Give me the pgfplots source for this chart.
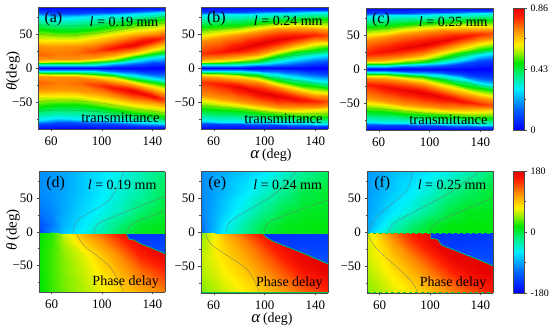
\documentclass[border=0pt]{standalone}
\usepackage{fontspec}
\setmainfont{Liberation Serif}
\usepackage{pgfplots}
\usepackage{pgfplotstable}
\pgfplotsset{compat=1.18}
\pgfplotsset{
 colormap={cmb}{rgb255(0)=(0,0,255) rgb255(17)=(0,100,255) rgb255(34)=(0,240,255) rgb255(45)=(0,240,130) rgb255(55)=(0,230,0) rgb255(63)=(150,240,0) rgb255(70)=(255,240,0) rgb255(82)=(255,140,0) rgb255(93)=(255,30,0) rgb255(100)=(230,0,0)},
 pan/.style={scale only axis,view={0}{90},width=127pt,height=122pt,xmin=50,xmax=150,ymin=-90,ymax=90,zmin=-200,zmax=200,
  anchor=south west,colormap name=cmb,axis on top,
  xtick={60,100,140},xticklabels={60,100,140},minor xtick={80,120},
  ytick={-50,0,50},yticklabels={−50,0,50},minor ytick={-75,-25,25,75},ztick=\empty,
  xtick pos=left,ytick pos=left,tick align=outside,major tick length=2.5pt,minor tick length=1.5pt,
  tick label style={font=\fontsize{13}{13}\selectfont},
  xticklabel style={yshift=-2pt},
  axis line style={line width=0.4pt,black!70},tick style={black!70,line width=0.4pt}},
 tr/.style={pan,point meta min=0,point meta max=0.86},
 ph/.style={pan,point meta min=-180,point meta max=180},
 ub/.style={surf,shader=interp,mesh/ordering=y varies,mesh/rows=13,mesh/cols=8,forget plot},
 pm/.style={surf,shader=interp,mesh/ordering=x varies,mesh/cols=8,forget plot},
 cl/.style={black!55,line width=0.25pt,smooth,forget plot},
 ct/.style={black,opacity=0.3,line width=0.25pt,smooth,forget plot},
 bd/.style={color={rgb,255:red,0;green,200;blue,70},line width=0.7pt,forget plot},
 cbar/.style={scale only axis,view={0}{90},anchor=south west,width=11.5pt,height=122pt,xmin=0,xmax=1,xtick=\empty,ztick=\empty,colormap name=cmb,axis on top,
  ytick pos=right,tick align=outside,major tick length=2.5pt,minor tick length=1.5pt,
  yticklabel style={font=\fontsize{10}{11}\selectfont},
  axis line style={line width=0.4pt,black!70},tick style={black!70,line width=0.4pt}}
}
\newcommand{\lab}[2]{\fontsize{16}{16}\selectfont #1}
\newcommand{\llen}[1]{\fontsize{14}{14}\selectfont \textit{l} = #1 mm}
\newcommand{\tm}{\fontsize{14.5}{15}\selectfont transmittance}
\newcommand{\pd}{\fontsize{14}{15}\selectfont Phase delay}

\pgfplotstableread[row sep=crcr]{a t v\\
50 90 0\\50 82 .1\\50 76 .29\\50 57 .47\\50 42 .6\\50 32 .7\\50 21 .74\\50 13 .7\\50 9.5 .6\\50 7 .47\\50 4.5 .29\\50 2 .1\\50 0 0\\
65 90 0\\65 81 .1\\65 74 .29\\65 55 .47\\65 41 .6\\65 31 .7\\65 21 .72\\65 13 .7\\65 10 .6\\65 7.5 .47\\65 4.5 .29\\65 2 .1\\65 0 0\\
80 90 0\\80 81 .1\\80 75 .29\\80 55 .47\\80 42 .6\\80 33 .7\\80 22 .73\\80 14 .7\\80 10.5 .6\\80 7.5 .47\\80 5 .29\\80 2 .1\\80 0 0\\
95 90 0\\95 82 .1\\95 76 .29\\95 57 .47\\95 46 .6\\95 36 .7\\95 25 .77\\95 16 .7\\95 12 .6\\95 8.5 .47\\95 5 .29\\95 2 .1\\95 0 0\\
110 90 0\\110 83 .1\\110 78 .29\\110 62 .47\\110 50 .6\\110 41 .7\\110 29 .82\\110 20 .7\\110 15 .6\\110 11 .47\\110 7 .29\\110 3 .1\\110 0 0\\
125 90 0\\125 84 .1\\125 80 .29\\125 66 .47\\125 54 .6\\125 47 .7\\125 34 .85\\125 25 .7\\125 21 .6\\125 16 .47\\125 11 .29\\125 5 .1\\125 0 0\\
140 90 0\\140 85 .1\\140 81 .29\\140 70 .47\\140 58 .6\\140 50 .7\\140 41 .84\\140 32 .7\\140 27 .6\\140 21 .47\\140 15 .29\\140 7 .1\\140 0 0\\
150 90 0\\150 85 .1\\150 82 .29\\150 72 .47\\150 60 .6\\150 53 .7\\150 46 .78\\150 38 .7\\150 31 .6\\150 24 .47\\150 17 .29\\150 8 .1\\150 0 0\\
}\taba
\pgfplotstableread[row sep=crcr]{a t v\\
50 90 0\\50 83 .1\\50 78 .29\\50 60 .47\\50 47 .6\\50 40 .7\\50 20 .78\\50 14 .7\\50 9.5 .6\\50 7 .47\\50 4.5 .29\\50 1.5 .1\\50 0 0\\
65 90 0\\65 83 .1\\65 79 .29\\65 62 .47\\65 51 .6\\65 44 .7\\65 24 .81\\65 15 .7\\65 10.5 .6\\65 7.5 .47\\65 4.5 .29\\65 1.5 .1\\65 0 0\\
80 90 0\\80 83 .1\\80 79 .29\\80 64 .47\\80 55 .6\\80 49 .7\\80 28 .85\\80 17 .7\\80 12 .6\\80 8.5 .47\\80 5 .29\\80 2 .1\\80 0 0\\
95 90 0\\95 84 .1\\95 80 .29\\95 67 .47\\95 59 .6\\95 53 .7\\95 35 .86\\95 21 .7\\95 16 .6\\95 11 .47\\95 6 .29\\95 2.5 .1\\95 0 0\\
110 90 0\\110 84 .1\\110 81 .29\\110 69 .47\\110 62 .6\\110 57 .7\\110 42 .86\\110 28 .7\\110 23 .6\\110 17 .47\\110 9 .29\\110 3.5 .1\\110 0 0\\
125 90 0\\125 85 .1\\125 81 .29\\125 71 .47\\125 63 .6\\125 58 .7\\125 46 .84\\125 36 .7\\125 30 .6\\125 23 .47\\125 13 .29\\125 5 .1\\125 0 0\\
140 90 0\\140 85 .1\\140 82 .29\\140 72 .47\\140 62 .6\\140 57 .7\\140 48 .8\\140 41 .7\\140 35 .6\\140 27 .47\\140 17 .29\\140 8 .1\\140 0 0\\
150 90 0\\150 85 .1\\150 82 .29\\150 72 .47\\150 61 .6\\150 56 .7\\150 49 .76\\150 42 .7\\150 37 .6\\150 29 .47\\150 19 .29\\150 9 .1\\150 0 0\\
}\tabb
\pgfplotstableread[row sep=crcr]{a t v\\
50 90 0\\50 83 .1\\50 78 .29\\50 62 .47\\50 50 .6\\50 43 .7\\50 22 .8\\50 14 .7\\50 10 .6\\50 7 .47\\50 4.5 .29\\50 1.5 .1\\50 0 0\\
65 90 0\\65 83 .1\\65 79 .29\\65 64 .47\\65 53 .6\\65 47 .7\\65 26 .83\\65 15 .7\\65 11 .6\\65 7.5 .47\\65 5 .29\\65 2 .1\\65 0 0\\
80 90 0\\80 83 .1\\80 79 .29\\80 66 .47\\80 57 .6\\80 51 .7\\80 31 .85\\80 18 .7\\80 13 .6\\80 9 .47\\80 5.5 .29\\80 2.5 .1\\80 0 0\\
95 90 0\\95 84 .1\\95 80 .29\\95 68 .47\\95 60 .6\\95 54 .7\\95 36 .86\\95 22 .7\\95 16 .6\\95 11 .47\\95 7 .29\\95 3 .1\\95 0 0\\
110 90 0\\110 84 .1\\110 81 .29\\110 70 .47\\110 62 .6\\110 57 .7\\110 42 .85\\110 29 .7\\110 23 .6\\110 16 .47\\110 9 .29\\110 4.5 .1\\110 0 0\\
125 90 0\\125 85 .1\\125 81 .29\\125 71 .47\\125 63 .6\\125 58 .7\\125 47 .83\\125 37 .7\\125 30 .6\\125 23 .47\\125 14 .29\\125 8 .1\\125 0 0\\
140 90 0\\140 85 .1\\140 82 .29\\140 72 .47\\140 63 .6\\140 58 .7\\140 51 .79\\140 43 .7\\140 37 .6\\140 28 .47\\140 20 .29\\140 12 .1\\140 0 0\\
150 90 0\\150 85 .1\\150 82 .29\\150 72 .47\\150 62 .6\\150 58 .7\\150 53 .76\\150 46 .7\\150 40 .6\\150 31 .47\\150 23 .29\\150 14 .1\\150 0 0\\
}\tabc

% phase: upper part, lower part, wedge
\pgfplotstableread[row sep=crcr]{a t p\\
50 90 -100\\60 90 -95\\70 90 -90\\85 90 -75\\100 90 -62\\115 90 -50\\130 90 -35\\150 90 -15\\
50 60 -102\\60 60 -97\\70 60 -90\\85 60 -75\\100 60 -60\\115 60 -45\\130 60 -30\\150 60 -5\\
50 30 -112\\60 30 -103\\70 30 -88\\85 30 -68\\100 30 -52\\115 30 -35\\130 30 -12\\150 30 5\\
50 10 -130\\60 10 -110\\70 10 -82\\85 10 -60\\100 10 -38\\115 10 -14\\130 10 5\\150 10 12\\
50 -1.5 -145\\60 -1 -100\\70 -3 -75\\85 -3 -52\\100 -3 -30\\115 -3 -5\\130 -3 10\\150 -3 15\\
}\tabdu
\pgfplotstableread[row sep=crcr]{a t p\\
50 -1.5 18\\60 -1 25\\70 -3 60\\85 -3 100\\100 -3 130\\115 -3 162\\130 -3 175\\150 -3 180\\
50 -15 18\\60 -15 28\\70 -15 52\\85 -15 85\\100 -15 112\\115 -15 145\\130 -15 172\\150 -15 180\\
50 -35 18\\60 -35 30\\70 -35 45\\85 -35 65\\100 -35 90\\115 -35 120\\130 -35 155\\150 -35 178\\
50 -60 18\\60 -60 30\\70 -60 42\\85 -60 58\\100 -60 78\\115 -60 100\\130 -60 125\\150 -60 150\\
50 -90 15\\60 -90 28\\70 -90 40\\85 -90 52\\100 -90 68\\115 -90 85\\130 -90 102\\150 -90 120\\
}\tabdl
\pgfplotstableread[row sep=crcr]{a t p\\
119.5 -3 -150\\121.6 -3 -150\\126 -3 -150\\130 -3 -150\\140 -3 -148\\150 -3 -145\\
119.5 -4 -150\\121.6 -11.5 -145\\126 -12.5 -145\\130 -17.5 -140\\140 -25 -135\\150 -32.5 -130\\
}\tabdw
\pgfplotstableread[row sep=crcr]{a t p\\
50 90 -100\\60 90 -92\\70 90 -85\\85 90 -75\\100 90 -62\\115 90 -45\\130 90 -25\\150 90 -8\\
50 60 -102\\60 60 -92\\70 60 -80\\85 60 -62\\100 60 -42\\115 60 -22\\130 60 -3\\150 60 5\\
50 30 -105\\60 30 -88\\70 30 -70\\85 30 -45\\100 30 -20\\115 30 0\\130 30 8\\150 30 10\\
50 10 -112\\60 10 -85\\70 10 -58\\85 10 -28\\100 10 -3\\115 10 10\\130 10 13\\150 10 14\\
50 -1 -120\\60 -1 -80\\70 -2.5 -50\\85 -2.5 -22\\100 -2.5 3\\115 -2.5 12\\130 -2.5 14\\150 -2.5 15\\
}\tabeu
\pgfplotstableread[row sep=crcr]{a t p\\
50 -1 40\\60 -1 70\\70 -2.5 100\\85 -2.5 135\\100 -2.5 165\\115 -2.5 178\\130 -2.5 180\\150 -2.5 180\\
50 -15 50\\60 -15 72\\70 -15 92\\85 -15 118\\100 -15 150\\115 -15 175\\130 -15 180\\150 -15 180\\
50 -35 58\\60 -35 68\\70 -35 82\\85 -35 104\\100 -35 130\\115 -35 160\\130 -35 178\\150 -35 180\\
50 -60 52\\60 -60 62\\70 -60 72\\85 -60 88\\100 -60 110\\115 -60 135\\130 -60 160\\150 -60 178\\
50 -90 40\\60 -90 50\\70 -90 60\\85 -90 72\\100 -90 88\\115 -90 108\\130 -90 128\\150 -90 150\\
}\tabel
\pgfplotstableread[row sep=crcr]{a t p\\
99 -2.5 -150\\101 -2.5 -150\\107 -2.5 -150\\110 -2.5 -150\\130 -2.5 -148\\150 -2.5 -145\\
99 -3 -150\\101 -7.5 -150\\107 -14 -145\\110 -16 -145\\130 -31 -135\\150 -47 -130\\
}\tabew
\pgfplotstableread[row sep=crcr]{a t p\\
50 90 -95\\60 90 -88\\70 90 -80\\85 90 -72\\100 90 -62\\115 90 -50\\130 90 -35\\150 90 -10\\
50 60 -95\\60 60 -85\\70 60 -75\\85 60 -60\\100 60 -42\\115 60 -22\\130 60 -8\\150 60 5\\
50 30 -92\\60 30 -78\\70 30 -62\\85 30 -42\\100 30 -20\\115 30 0\\130 30 10\\150 30 12\\
50 10 -90\\60 10 -65\\70 10 -42\\85 10 -15\\100 10 5\\115 10 13\\130 10 15\\150 10 15\\
50 -1 -85\\60 -2 -50\\70 -2 -28\\85 -2 -5\\100 -2 10\\115 -2 15\\130 -2 15\\150 -2 15\\
}\tabfu
\pgfplotstableread[row sep=crcr]{a t p\\
50 -1 60\\60 -2 90\\70 -2 120\\85 -2 155\\100 -2 178\\115 -2 180\\130 -2 180\\150 -2 180\\
50 -15 62\\60 -15 82\\70 -15 108\\85 -15 145\\100 -15 172\\115 -15 180\\130 -15 180\\150 -15 180\\
50 -35 62\\60 -35 72\\70 -35 90\\85 -35 118\\100 -35 148\\115 -35 175\\130 -35 180\\150 -35 180\\
50 -60 52\\60 -60 64\\70 -60 76\\85 -60 96\\100 -60 120\\115 -60 148\\130 -60 170\\150 -60 180\\
50 -90 42\\60 -90 52\\70 -90 62\\85 -90 75\\100 -90 92\\115 -90 112\\130 -90 132\\150 -90 155\\
}\tabfl
\pgfplotstableread[row sep=crcr]{a t p\\
100.5 -2 -150\\106 -2 -150\\109 -2 -150\\125 -2 -150\\140 -2 -148\\150 -2 -145\\
100.5 -9 -150\\106 -11 -150\\109 -19 -145\\125 -31 -140\\140 -42 -132\\150 -50 -130\\
}\tabfw

\begin{document}
\begin{tikzpicture}[x=1pt,y=1pt]
\path[use as bounding box] (0,0) rectangle (550,331);

% ---- transmittance
\begin{axis}[tr,at={(38.5pt,202pt)},width=126.5pt]
\addplot3[ub] table[x=a,y=t,z=v]{\taba};
\addplot3[ub] table[x=a,y expr=-\thisrow{t},z=v]{\taba};
\addplot3[ct] coordinates {(50,50,0)(70,47,0)(100,52,0)(125,60,0)(150,66,0)};
\addplot3[ct] coordinates {(50,64,0)(70,62,0)(100,65,0)(125,71,0)(150,76,0)};
\addplot3[ct] coordinates {(50,-50,0)(70,-47,0)(100,-52,0)(125,-60,0)(150,-66,0)};
\addplot3[ct] coordinates {(50,-64,0)(70,-62,0)(100,-65,0)(125,-71,0)(150,-76,0)};
\node[anchor=west] at (rel axis cs:0.02,0.905){\lab{(a)}{}};
\node[anchor=east] at (rel axis cs:0.975,0.88){\llen{0.19}};
\node[anchor=east] at (rel axis cs:0.985,0.09){\tm};
\end{axis}
\begin{axis}[tr,at={(201pt,202pt)}]
\addplot3[ub] table[x=a,y=t,z=v]{\tabb};
\addplot3[ub] table[x=a,y expr=-\thisrow{t},z=v]{\tabb};
\addplot3[ct] coordinates {(50,55,0)(80,60,0)(110,66,0)(150,67,0)};
\addplot3[ct] coordinates {(50,-55,0)(80,-60,0)(110,-66,0)(150,-67,0)};
\addplot3[ct] coordinates {(80,10,0)(110,15,0)(150,25,0)};
\addplot3[ct] coordinates {(80,-10,0)(110,-15,0)(150,-25,0)};
\node[anchor=west] at (rel axis cs:0.02,0.905){\lab{(b)}{}};
\node[anchor=east] at (rel axis cs:0.985,0.89){\llen{0.24}};
\node[anchor=east] at (rel axis cs:0.985,0.085){\tm};
\end{axis}
\begin{axis}[tr,at={(366pt,201pt)}]
\addplot3[ub] table[x=a,y=t,z=v]{\tabc};
\addplot3[ub] table[x=a,y expr=-\thisrow{t},z=v]{\tabc};
\addplot3[ct] coordinates {(50,57,0)(80,62,0)(110,67,0)(150,68,0)};
\addplot3[ct] coordinates {(50,-57,0)(80,-62,0)(110,-67,0)(150,-68,0)};
\addplot3[ct] coordinates {(80,11,0)(110,15,0)(150,27,0)};
\addplot3[ct] coordinates {(80,-11,0)(110,-15,0)(150,-27,0)};
\node[anchor=west] at (rel axis cs:0.02,0.905){\lab{(c)}{}};
\node[anchor=east] at (rel axis cs:0.985,0.89){\llen{0.25}};
\node[anchor=east] at (rel axis cs:0.985,0.085){\tm};
\end{axis}
\begin{axis}[cbar,at={(513pt,201pt)},ymin=0,ymax=0.86,point meta min=0,point meta max=0.86,
  ytick={0,0.43,0.86},yticklabels={0,0.43,0.86},minor ytick={0.215,0.645}]
\addplot3[surf,shader=interp,mesh/cols=2,forget plot] coordinates {(0,0,0)(1,0,0)(0,0.86,0.86)(1,0.86,0.86)};
\end{axis}

% ---- phase
\begin{axis}[ph,at={(39pt,39pt)},width=126pt,height=120.5pt]
\addplot3[pm] table[x=a,y=t,z=p]{\tabdu};
\addplot3[pm] table[x=a,y=t,z=p]{\tabdl};
\addplot3[surf,shader=interp,mesh/cols=6,forget plot] table[x=a,y=t,z=p]{\tabdw};
\addplot3[bd] coordinates {(119.5,-3,0)(119.5,-4,0)(121.6,-11.5,0)(126,-12.5,0)(130,-17.5,0)(140,-25,0)(150,-32.5,0)};
\addplot3[cl] coordinates {(77,-2,0)(81,18,0)(106,48,0)(117,88,0)};
\addplot3[cl] coordinates {(94,-2,0)(98,13,0)(130,38,0)(150,53,0)};
\addplot3[cl] coordinates {(119.5,-2,0)(125,13,0)(150,31,0)};
\addplot3[cl] coordinates {(80,-4,0)(86,-21,0)(106,-52,0)(117,-89,0)};
\node[anchor=west] at (rel axis cs:0.03,0.9){\lab{(d)}{}};
\node[anchor=east] at (rel axis cs:0.96,0.888){\llen{0.19}};
\node[anchor=east] at (rel axis cs:0.98,0.083){\pd};
\end{axis}
\begin{axis}[ph,at={(201pt,38pt)}]
\addplot3[pm] table[x=a,y=t,z=p]{\tabeu};
\addplot3[pm] table[x=a,y=t,z=p]{\tabel};
\addplot3[surf,shader=interp,mesh/cols=6,forget plot] table[x=a,y=t,z=p]{\tabew};
\addplot3[bd] coordinates {(99,-2.5,0)(99,-3,0)(101,-7.5,0)(107,-14,0)(110,-16,0)(130,-31,0)(150,-47,0)};
\addplot3[bd] coordinates {(50,-89.5,0)(150,-89.5,0)};
\addplot3[cl] coordinates {(70,0,0)(74,17,0)(107,55,0)(125,89,0)};
\addplot3[cl] coordinates {(100,0,0)(106,17,0)(150,47,0)};
\addplot3[cl] coordinates {(54,-3,0)(59,-20,0)(86,-55,0)(96,-89,0)};
\node[anchor=west] at (rel axis cs:0.03,0.9){\lab{(e)}{}};
\node[anchor=east] at (rel axis cs:0.98,0.89){\llen{0.24}};
\node[anchor=east] at (rel axis cs:0.985,0.08){\pd};
\end{axis}
\begin{axis}[ph,at={(367pt,38pt)},width=126pt]
\addplot3[pm] table[x=a,y=t,z=p]{\tabfu};
\addplot3[pm] table[x=a,y=t,z=p]{\tabfl};
\addplot3[surf,shader=interp,mesh/cols=6,forget plot] table[x=a,y=t,z=p]{\tabfw};
\addplot3[bd] coordinates {(100.5,-2,0)(100.5,-9,0)(106,-11,0)(109,-19,0)(125,-31,0)(140,-42,0)(150,-50,0)};
\addplot3[bd,dashed] coordinates {(50,-89,0)(150,-89,0)};
\addplot3[bd,dashed] coordinates {(50,89,0)(150,89,0)};
\addplot3[bd,dashed] coordinates {(50,-1.5,0)(100,-1.5,0)};
\addplot3[bd,dashed] coordinates {(102,-1.5,0)(150,-1.5,0)};
\addplot3[cl] coordinates {(51,2,0)(59,25,0)(81,60,0)(86,89,0)};
\addplot3[cl] coordinates {(68,0,0)(73,15,0)(113,55,0)(138,88,0)};
\addplot3[cl] coordinates {(100,0,0)(108,17,0)(150,50,0)};
\addplot3[cl] coordinates {(51,-5,0)(58,-25,0)(84,-70,0)(90,-89,0)};
\node[anchor=west] at (rel axis cs:0.03,0.9){\lab{(f)}{}};
\node[anchor=east] at (rel axis cs:0.975,0.89){\llen{0.25}};
\node[anchor=east] at (rel axis cs:0.975,0.08){\pd};
\end{axis}
\begin{axis}[cbar,at={(513pt,38pt)},ymin=-180,ymax=180,point meta min=-180,point meta max=180,
  ytick={-180,0,180},yticklabels={-180,0,180},minor ytick={-90,90}]
\addplot3[surf,shader=interp,mesh/cols=2,forget plot] coordinates {(0,-180,-180)(1,-180,-180)(0,180,180)(1,180,180)};
\end{axis}

% axis titles
\node[rotate=90,inner sep=0pt,font=\fontsize{15}{15}\selectfont] at (13,260){\textit{θ}(deg)};
\node[rotate=90,inner sep=0pt,font=\fontsize{15}{15}\selectfont] at (13,101){\textit{θ}\,(deg)};
\node[inner sep=0pt,font=\fontsize{14}{14}\selectfont] at (271,176){{\fontsize{17}{17}\selectfont\textit{α}}\,(deg)};
\node[inner sep=0pt,font=\fontsize{14}{14}\selectfont] at (272,11.5){{\fontsize{17}{17}\selectfont\textit{α}}\,(deg)};
\end{tikzpicture}
\end{document}
